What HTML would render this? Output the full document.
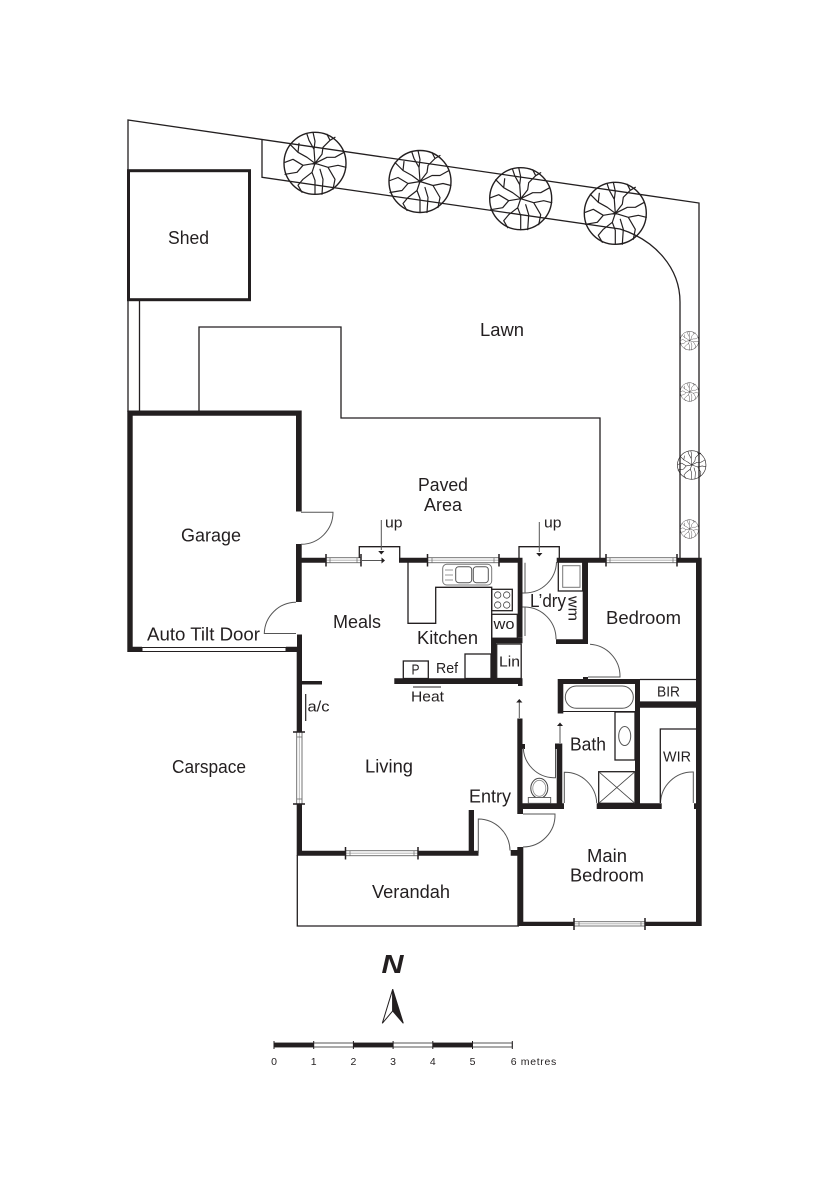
<!DOCTYPE html>
<html>
<head>
<meta charset="utf-8">
<title>Floor Plan</title>
<style>
html,body{margin:0;padding:0;background:#fff;}
svg{display:block;}
text{font-family:"Liberation Sans",sans-serif;fill:#231f20;}
.w{fill:#231f20;stroke:none;}
.t{fill:none;stroke:#231f20;stroke-width:1.3;}
.d{fill:none;stroke:#555;stroke-width:1;}
.win{fill:#fff;stroke:#666;stroke-width:.9;}
.mid{stroke:#aaa;stroke-width:.8;fill:none;}
.tick{stroke:#231f20;stroke-width:1.5;fill:none;}
.tk{stroke:#666;stroke-width:.7;fill:none;}
</style>
</head>
<body>
<svg width="835" height="1181" viewBox="0 0 835 1181" xmlns="http://www.w3.org/2000/svg">
<defs>
<g id="tree" fill="none" stroke="#231f20" stroke-linejoin="round" stroke-linecap="round">
<circle cx="0" cy="0" r="31" stroke-width="1.4"/>
<path stroke-width="1.2" d="M0 0L-1 -14L-6 -23L-8 -29M-1 -14L0 -22L-2 -31M0 0L7 -9L8 -16L15 -23L20 -26M15 -23L12 -29M0 0L12 -6L20 -6L29 -11M0 0L13 4L20 16L18 26M13 4L23 2L31 4M0 0L-3 9L0 17L0 31M-3 9L-12 16L-17 22L-13 29M0 0L-12 2L-22 -4L-30 -1M-12 2L-18 9L-30 11M0 0L-8 -6L-17 -11L-25 -19M-17 -11L-16 -20M5 6L8 16L7 31"/>
</g>
</defs>

<!-- boundary -->
<path class="t" d="M128 300V120L699 203V559"/>
<path class="t" d="M128 300V412M139.5 300V412"/>
<path class="t" d="M262 139.500V177.300L620 229C655 240 680 268 680 302V558"/>
<path class="t" d="M199 412V327H341V418H600V558"/>

<!-- trees -->
<use href="#tree" transform="translate(315 163.300)"/>
<use href="#tree" transform="translate(420 181.500)"/>
<use href="#tree" transform="translate(520.700 198.700)"/>
<use href="#tree" transform="translate(615.300 213.300)"/>
<use href="#tree" transform="translate(689.500 340.700) scale(.3)"/>
<use href="#tree" transform="translate(689.500 392) scale(.3)"/>
<use href="#tree" transform="translate(691.700 465) scale(.46)"/>
<use href="#tree" transform="translate(689.500 529) scale(.3)"/>

<!-- shed -->
<rect x="128.500" y="170.700" width="121" height="129" fill="none" stroke="#231f20" stroke-width="3"/>

<!-- verandah -->
<path class="t" d="M297.300 855V926H519"/>

<!-- thick walls -->
<path class="w" d="M127.300 410.500H301.700V511.500H296V415.700H132.700V646.700H142V652H127.300Z"/>
<path class="w" d="M296 544H301.700V602H296Z"/>
<path class="w" d="M286 646.700H297V634.500H302V681H322V684.500H302V732H296.700V652H286Z"/>
<path class="w" d="M296.700 804H302V850.700H345.500V855.700H296.700Z"/>
<path class="w" d="M418 850.700H468.700V810H474V850.700H478.500V855.700H418Z"/>
<path class="w" d="M301 557.700H325.500V562.700H301Z"/>
<path class="w" d="M399 557.700H427.500V562.700H399Z"/>
<path class="w" d="M499 557.700H522.500V637.700H517.700V562.700H499Z"/>
<path class="w" d="M491 637.700H522.500V643.300H496V678.300H522.500V686H518V684H394.300V678.300H491Z"/>
<path class="w" d="M556.700 557.700H606V562.700H588V644H556V639.300H582.700V562.700H556.700Z"/>
<path class="w" d="M677 557.700H701.700V926H645V921.700H696V562.700H677Z"/>
<path class="w" d="M517.300 847H523.300V921.700H574V926H517.300V855.700H510.700V850H517.300Z"/>
<path class="w" d="M517.300 718.500H522.500V744H525V749H522.500V803.300H556.700V749H555V743.500H562.300V803.300H564V809H523V814H517.300Z"/>
<path class="w" d="M596.700 803.300H635V712H563.300V713.500H557.700V679H640V702.300H696V707.700H640V803.300H661.700V809H596.700ZM563.300 684V711H635V684Z"/>
<path class="w" d="M694 803.300H697V809H694Z"/>
<path class="w" d="M583 677H588V679H583Z"/>

<!-- windows -->
<g>
<rect class="win" x="326" y="557.700" width="35" height="5"/><path class="mid" d="M326 560.200H361"/><path class="tick" d="M326 554V566.500M361 554V566.500"/><path class="tk" d="M330 558V562.500M357 558V562.500"/>
<rect class="win" x="427.500" y="557.700" width="71.500" height="5"/><path class="mid" d="M427.500 560.200H499"/><path class="tick" d="M427.500 554V566.500M499 554V566.500"/><path class="tk" d="M432 558V562.500M494 558V562.500"/>
<rect class="win" x="606" y="557.700" width="71" height="5"/><path class="mid" d="M606 560.200H677"/><path class="tick" d="M606 554V566.500M677 554V566.500"/><path class="tk" d="M610 558V562.500M673 558V562.500"/>
<rect class="win" x="345.500" y="850.700" width="72.500" height="5"/><path class="mid" d="M345.500 853.200H418"/><path class="tick" d="M345.500 847V859.500M418 847V859.500"/><path class="tk" d="M350 851V855.500M414 851V855.500"/>
<rect class="win" x="574" y="921.700" width="71" height="4.300"/><path class="mid" d="M574 923.800H645"/><path class="tick" d="M574 918V930M645 918V930"/><path class="tk" d="M579 922V926M641 922V926"/>
<rect class="win" x="296.700" y="732" width="5.300" height="72"/><path class="mid" d="M299.300 732V804"/><path class="tick" d="M293 732H305M293 804H305"/><path class="tk" d="M297 737H302M297 799H302"/>
</g>
<!-- garage door -->
<rect x="142" y="647.500" width="144" height="4" fill="#fff" stroke="#231f20" stroke-width="1"/>

<!-- doors -->
<path class="d" d="M301 512.300H333A32 32 0 0 1 301 544.300"/>
<path class="d" d="M296 602.300A32 32 0 0 0 264.300 633.500H296"/>
<path class="d" d="M478.300 853V819A32 32 0 0 1 510 850.500"/>
<path class="d" d="M523 814H555A32 32 0 0 1 523 847"/>
<path class="d" d="M564.300 803V772.300A32 32 0 0 1 596.700 803"/>
<path class="d" d="M660.500 803A32 32 0 0 1 693.300 772V803"/>
<path class="d" d="M523.300 748A31 31 0 0 0 553.500 777.700H555.500V749"/>
<path class="d" d="M556.500 562A32 32 0 0 1 525 593H522.500M525 562.700V593M525 607V636"/>
<path class="d" d="M522.500 607H525A32 32 0 0 1 556 639.300"/>
<path class="d" d="M590 644.300A32 32 0 0 1 620 676.500V677H588"/>

<!-- landings -->
<path class="t" d="M359.300 558V546.700H399.700V558"/>
<path class="t" d="M519 558V546.700H559.300V558"/>

<!-- arrows -->
<path class="d" d="M362 560.500H382"/><path class="w" d="M381.500 557.500L385 560.500L381.500 563.500Z"/>
<path class="d" d="M381.300 520V550"/><path class="w" d="M378.200 551H384.400L381.300 554.500Z"/>
<path class="d" d="M539.300 522V552"/><path class="w" d="M536.200 553H542.400L539.300 556.500Z"/>
<path class="d" d="M519.300 702V718"/><path class="w" d="M516.200 702.500H522.400L519.300 699Z"/>
<path class="d" d="M560 726V743"/><path class="w" d="M557 726H563L560 722.500Z"/>

<!-- kitchen -->
<path class="t" d="M408 562V623.300H435.700V587.300H491.700V638"/>
<rect class="t" x="491.700" y="589.300" width="20.600" height="21.400"/>
<g fill="none" stroke="#444" stroke-width=".8"><circle cx="497.700" cy="595" r="3.200"/><circle cx="506.700" cy="595" r="3.200"/><circle cx="497.700" cy="605" r="3.200"/><circle cx="506.700" cy="605" r="3.200"/></g>
<rect class="t" x="491.700" y="614.300" width="25.600" height="24"/>
<rect x="442.700" y="564.300" width="49" height="20.700" rx="4" fill="none" stroke="#777" stroke-width="1"/>
<rect x="455.700" y="566.700" width="16" height="16" rx="3" fill="none" stroke="#555" stroke-width="1"/>
<rect x="473.300" y="566.700" width="15" height="16" rx="3" fill="none" stroke="#555" stroke-width="1"/>
<path d="M445 570H453M445 575H453M445 580H453" fill="none" stroke="#777" stroke-width=".8"/>
<rect class="t" x="403.300" y="661" width="25" height="17.500"/>
<rect class="t" x="465" y="654" width="26" height="24.500"/>
<rect class="t" x="496.700" y="644" width="24.500" height="34.500"/>
<path d="M413 687H441" stroke="#231f20" stroke-width="1"/>
<path d="M305.700 694V721" stroke="#231f20" stroke-width="1.200"/>

<!-- laundry -->
<rect class="t" x="558.300" y="562" width="24.400" height="29"/>
<rect x="562.700" y="565.700" width="17.300" height="21.600" fill="none" stroke="#777" stroke-width="1"/>

<!-- bath -->
<rect x="565.300" y="686" width="68" height="22.300" rx="11" fill="none" stroke="#555" stroke-width="1"/>
<rect class="t" x="615" y="712" width="20" height="48"/>
<ellipse cx="624.700" cy="736" rx="6" ry="9.500" fill="none" stroke="#555" stroke-width="1"/>
<rect class="t" x="598.700" y="771.700" width="36.300" height="31.600"/>
<path d="M598.700 771.700L635 803.300M635 771.700L598.700 803.300" stroke="#444" stroke-width=".8" fill="none"/>
<path class="t" d="M640 679.500H696M640 702H696"/>
<path class="t" d="M660.300 803V729H696"/>
<ellipse cx="539.300" cy="788.300" rx="8.500" ry="10" fill="none" stroke="#444" stroke-width="1"/>
<ellipse cx="539.300" cy="788.300" rx="6.500" ry="8" fill="none" stroke="#888" stroke-width=".8"/>
<rect x="528.300" y="797.500" width="22.400" height="5.800" fill="#fff" stroke="#555" stroke-width=".9"/>

<!-- labels -->
<g font-size="18">
<text x="168" y="244" textLength="41" lengthAdjust="spacingAndGlyphs">Shed</text>
<text x="480" y="336" textLength="44" lengthAdjust="spacingAndGlyphs">Lawn</text>
<text x="418" y="491" textLength="50" lengthAdjust="spacingAndGlyphs">Paved</text>
<text x="424" y="511" textLength="38" lengthAdjust="spacingAndGlyphs">Area</text>
<text x="181" y="541.700" textLength="60" lengthAdjust="spacingAndGlyphs">Garage</text>
<text x="147" y="640.700" textLength="113" lengthAdjust="spacingAndGlyphs">Auto Tilt Door</text>
<text x="333" y="628" textLength="48" lengthAdjust="spacingAndGlyphs">Meals</text>
<text x="417" y="644" textLength="61" lengthAdjust="spacingAndGlyphs">Kitchen</text>
<text x="606" y="624" textLength="75" lengthAdjust="spacingAndGlyphs">Bedroom</text>
<text x="530" y="607" textLength="36" lengthAdjust="spacingAndGlyphs">L’dry</text>
<text x="570" y="750.700" textLength="36" lengthAdjust="spacingAndGlyphs">Bath</text>
<text x="469" y="802.700" textLength="42" lengthAdjust="spacingAndGlyphs">Entry</text>
<text x="365" y="772.700" textLength="48" lengthAdjust="spacingAndGlyphs">Living</text>
<text x="172" y="773" textLength="74" lengthAdjust="spacingAndGlyphs">Carspace</text>
<text x="372" y="898" textLength="78" lengthAdjust="spacingAndGlyphs">Verandah</text>
<text x="587" y="862" textLength="40" lengthAdjust="spacingAndGlyphs">Main</text>
<text x="570" y="881.700" textLength="74" lengthAdjust="spacingAndGlyphs">Bedroom</text>
</g>
<g font-size="15">
<text x="411.500" y="674.700" textLength="8" lengthAdjust="spacingAndGlyphs">P</text>
<text x="436" y="673" textLength="22" lengthAdjust="spacingAndGlyphs">Ref</text>
<text x="499" y="666.700" textLength="21" lengthAdjust="spacingAndGlyphs">Lin</text>
<text x="493.500" y="629" textLength="21" lengthAdjust="spacingAndGlyphs">wo</text>
<text x="411" y="701.700" textLength="33" lengthAdjust="spacingAndGlyphs">Heat</text>
<text x="307.500" y="711.700" textLength="22" lengthAdjust="spacingAndGlyphs">a/c</text>
<text x="385" y="527.300" textLength="17.500" lengthAdjust="spacingAndGlyphs">up</text>
<text x="544" y="527.300" textLength="17.500" lengthAdjust="spacingAndGlyphs">up</text>
<text x="663" y="761.700" textLength="28" lengthAdjust="spacingAndGlyphs">WIR</text>
<text x="657" y="696.700" textLength="23" lengthAdjust="spacingAndGlyphs">BIR</text>
<text transform="translate(568.500 596) rotate(90)" textLength="25" lengthAdjust="spacingAndGlyphs">wm</text>
</g>

<!-- north -->
<text x="381.500" y="973" font-size="26" font-weight="bold" font-style="italic" textLength="22" lengthAdjust="spacingAndGlyphs">N</text>
<path d="M392.700 989.300L382.300 1023.300L392.700 1011Z" fill="#fff" stroke="#231f20" stroke-width="1"/>
<path d="M392.700 989.300L403.300 1023.300L392.700 1011Z" fill="#231f20" stroke="#231f20" stroke-width="1"/>

<!-- scale -->
<g>
<rect x="274" y="1043" width="238.300" height="4" fill="#fff" stroke="#444" stroke-width=".9"/>
<rect x="274" y="1042.800" width="39.700" height="4.400" fill="#231f20"/>
<rect x="353.400" y="1042.800" width="39.700" height="4.400" fill="#231f20"/>
<rect x="432.800" y="1042.800" width="39.700" height="4.400" fill="#231f20"/>
<path d="M274 1041V1049M313.700 1041V1049M353.400 1041V1049M393.100 1041V1049M432.800 1041V1049M472.500 1041V1049M512.300 1041V1049" stroke="#231f20" stroke-width="1"/>
</g>
<g font-size="10.500">
<text x="274" y="1065" text-anchor="middle">0</text>
<text x="313.700" y="1065" text-anchor="middle">1</text>
<text x="353.400" y="1065" text-anchor="middle">2</text>
<text x="393.100" y="1065" text-anchor="middle">3</text>
<text x="432.800" y="1065" text-anchor="middle">4</text>
<text x="472.500" y="1065" text-anchor="middle">5</text>
<text x="510.700" y="1065" textLength="45.500" lengthAdjust="spacing">6 metres</text>
</g>
</svg>
</body>
</html>
